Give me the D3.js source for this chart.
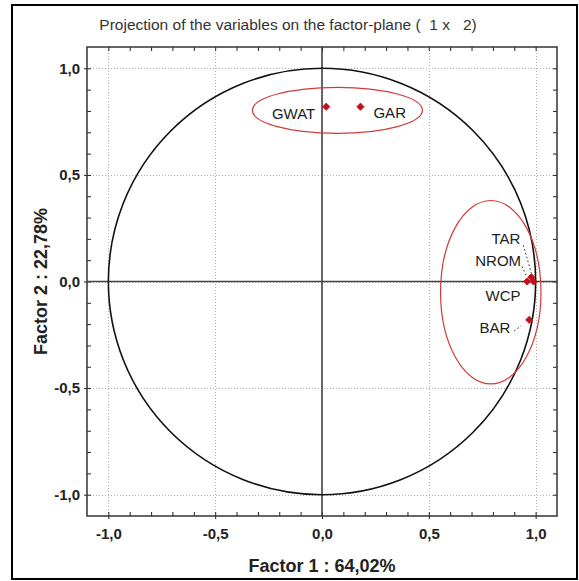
<!DOCTYPE html>
<html>
<head>
<meta charset="utf-8">
<script src="https://cdn.jsdelivr.net/npm/d3@7"></script>
<style>
  html, body { margin: 0; padding: 0; background: #fff; }
  svg { display: block; }
  text { font-family: "Liberation Sans", Arial, sans-serif; }
</style>
</head>
<body>
<svg id="chart" width="579" height="581"></svg>
<script>
// ---- data ----
const variables = ["GWAT", "GAR", "TAR", "NROM", "WCP", "BAR"];
const factor1 = [0.02, 0.18, 0.98, 0.96, 0.99, 0.97];
const factor2 = [0.82, 0.82, 0.02, 0.00, 0.00, -0.18];
const majorTicks = [-1.0, -0.5, 0.0, 0.5, 1.0];
const minorTicks = d3.range(-10, 11).map(i => i / 10);
const titleText = "Projection of the variables on the factor-plane (  1 x   2)";
const xLabel = "Factor 1 : 64,02%";
const yLabel = "Factor 2 : 22,78%";
// group ellipses (centre x, centre y, radius x, radius y) in factor units
const groupCx = [0.072, 0.79];
const groupCy = [0.803, -0.05];
const groupRx = [0.398, 0.235];
const groupRy = [0.108, 0.43];

// ---- layout / styles ----
const plot = { left: 87, right: 557, top: 47, bottom: 516 };
const labelStyle = {
  GWAT: { dx: -11, dy: 8, anchor: "end" },
  GAR:  { dx: 13,  dy: 7, anchor: "start" },
  TAR:  { dx: -11, dy: -37, anchor: "end", leader: [[-8, -32], [0, -4]] },
  NROM: { dx: -6,  dy: -19, anchor: "end", leader: [[-5, -15], [0, -4]] },
  WCP:  { dx: -13, dy: 16, anchor: "end" },
  BAR:  { dx: -19, dy: 9, anchor: "end", leader: [[-15, 11], [-8, 6]] }
};

const svg = d3.select("#chart");
const x = d3.scaleLinear().domain([-1.1, 1.1]).range([plot.left, plot.right]);
const y = d3.scaleLinear().domain([-1.1, 1.1]).range([plot.bottom, plot.top]);
const fmt = v => d3.format(".1f")(v).replace(".", ",").replace("−", "-");

// outer frame
svg.append("rect")
  .attr("x", 12).attr("y", 5).attr("width", 565).attr("height", 574)
  .attr("fill", "#fff").attr("stroke", "#000").attr("stroke-width", 2);

// title
svg.append("text")
  .attr("x", 288).attr("y", 30)
  .attr("text-anchor", "middle")
  .style("white-space", "pre")
  .attr("xml:space", "preserve")
  .attr("font-size", 15.5).attr("fill", "#333")
  .text(titleText);

// grid lines at major ticks (dotted)
const grid = svg.append("g").attr("stroke", "#b0b0b0").attr("stroke-width", 1)
  .attr("stroke-dasharray", "1,2");
grid.selectAll("line.vx").data(majorTicks).join("line")
  .attr("x1", d => Math.round(x(d)) + 0.5).attr("x2", d => Math.round(x(d)) + 0.5)
  .attr("y1", plot.top).attr("y2", plot.bottom);
grid.selectAll("line.hy").data(majorTicks).join("line")
  .attr("y1", d => Math.round(y(d)) + 0.5).attr("y2", d => Math.round(y(d)) + 0.5)
  .attr("x1", plot.left).attr("x2", plot.right);

// minor ticks inside the frame on all four sides
function minorAxis(gen, tx, ty) {
  const g = svg.append("g").attr("transform", `translate(${tx},${ty})`)
    .call(gen.tickValues(minorTicks).tickSize(-4).tickFormat(""));
  g.select(".domain").remove();
  g.selectAll(".tick line").attr("stroke", "#222").attr("stroke-width", 1);
}
minorAxis(d3.axisBottom(x), 0, plot.bottom);
minorAxis(d3.axisTop(x), 0, plot.top);
minorAxis(d3.axisLeft(y), plot.left, 0);
minorAxis(d3.axisRight(y), plot.right, 0);

// major axes with labels
const xAxis = svg.append("g").attr("transform", `translate(0,${plot.bottom})`)
  .call(d3.axisBottom(x).tickValues(majorTicks).tickSize(3).tickPadding(9).tickFormat(fmt));
xAxis.select(".domain").remove();
xAxis.selectAll("text").attr("font-size", 15).attr("font-weight", "bold").attr("fill", "#222")
  .style("font-family", "'Liberation Sans', Arial, sans-serif");
xAxis.selectAll("line").attr("stroke", "#222");

const yAxis = svg.append("g").attr("transform", `translate(${plot.left},0)`)
  .call(d3.axisLeft(y).tickValues(majorTicks).tickSize(3).tickPadding(4).tickFormat(fmt));
yAxis.select(".domain").remove();
yAxis.selectAll("text").attr("font-size", 15).attr("font-weight", "bold").attr("fill", "#222")
  .style("font-family", "'Liberation Sans', Arial, sans-serif");
yAxis.selectAll("line").attr("stroke", "#222");

// plot frame
svg.append("rect")
  .attr("x", plot.left).attr("y", plot.top)
  .attr("width", plot.right - plot.left).attr("height", plot.bottom - plot.top)
  .attr("fill", "none").attr("stroke", "#333").attr("stroke-width", 1.5);

// zero axes
svg.append("line")
  .attr("x1", x(0)).attr("x2", x(0)).attr("y1", plot.top).attr("y2", plot.bottom)
  .attr("stroke", "#444").attr("stroke-width", 1.6);
svg.append("line")
  .attr("x1", plot.left).attr("x2", plot.right).attr("y1", y(0)).attr("y2", y(0))
  .attr("stroke", "#444").attr("stroke-width", 1.6);

// unit circle
svg.append("ellipse")
  .attr("cx", x(0)).attr("cy", y(0))
  .attr("rx", x(1) - x(0)).attr("ry", y(0) - y(1))
  .attr("fill", "none").attr("stroke", "#111").attr("stroke-width", 1.6);

// group ellipses
svg.selectAll("ellipse.group").data(groupCx).join("ellipse")
  .attr("class", "group")
  .attr("cx", (d, i) => x(groupCx[i])).attr("cy", (d, i) => y(groupCy[i]))
  .attr("rx", (d, i) => x(groupRx[i]) - x(0)).attr("ry", (d, i) => y(0) - y(groupRy[i]))
  .attr("fill", "none").attr("stroke", "#d23a3a").attr("stroke-width", 1.2);

// points
const pts = variables.map((v, i) => ({ name: v, px: x(factor1[i]), py: y(factor2[i]) }));

// leader lines
pts.forEach(p => {
  const s = labelStyle[p.name];
  if (s.leader) {
    svg.append("line")
      .attr("x1", p.px + s.leader[0][0]).attr("y1", p.py + s.leader[0][1])
      .attr("x2", p.px + s.leader[1][0]).attr("y2", p.py + s.leader[1][1])
      .attr("stroke", "#222").attr("stroke-width", 1).attr("stroke-dasharray", "1.5,2.5");
  }
});

svg.selectAll("path.pt").data(pts).join("path")
  .attr("class", "pt")
  .attr("transform", d => `translate(${d.px},${d.py}) rotate(45)`)
  .attr("d", d3.symbol().type(d3.symbolSquare).size(26))
  .attr("fill", "#c4101a").attr("stroke", "#c4101a").attr("stroke-width", 0.8);

// point labels
svg.selectAll("text.lbl").data(pts).join("text")
  .attr("class", "lbl")
  .attr("x", d => d.px + labelStyle[d.name].dx)
  .attr("y", d => d.py + labelStyle[d.name].dy)
  .attr("text-anchor", d => labelStyle[d.name].anchor)
  .attr("dominant-baseline", "middle")
  .attr("font-size", 15).attr("fill", "#222")
  .text(d => d.name);

// axis titles
svg.append("text")
  .attr("x", x(0)).attr("y", 572)
  .attr("text-anchor", "middle")
  .attr("font-size", 18).attr("font-weight", "bold").attr("fill", "#222")
  .text(xLabel);
svg.append("text")
  .attr("transform", `translate(47,${y(0)}) rotate(-90)`)
  .attr("text-anchor", "middle")
  .attr("font-size", 18).attr("font-weight", "bold").attr("fill", "#222")
  .text(yLabel);
</script>
</body>
</html>
